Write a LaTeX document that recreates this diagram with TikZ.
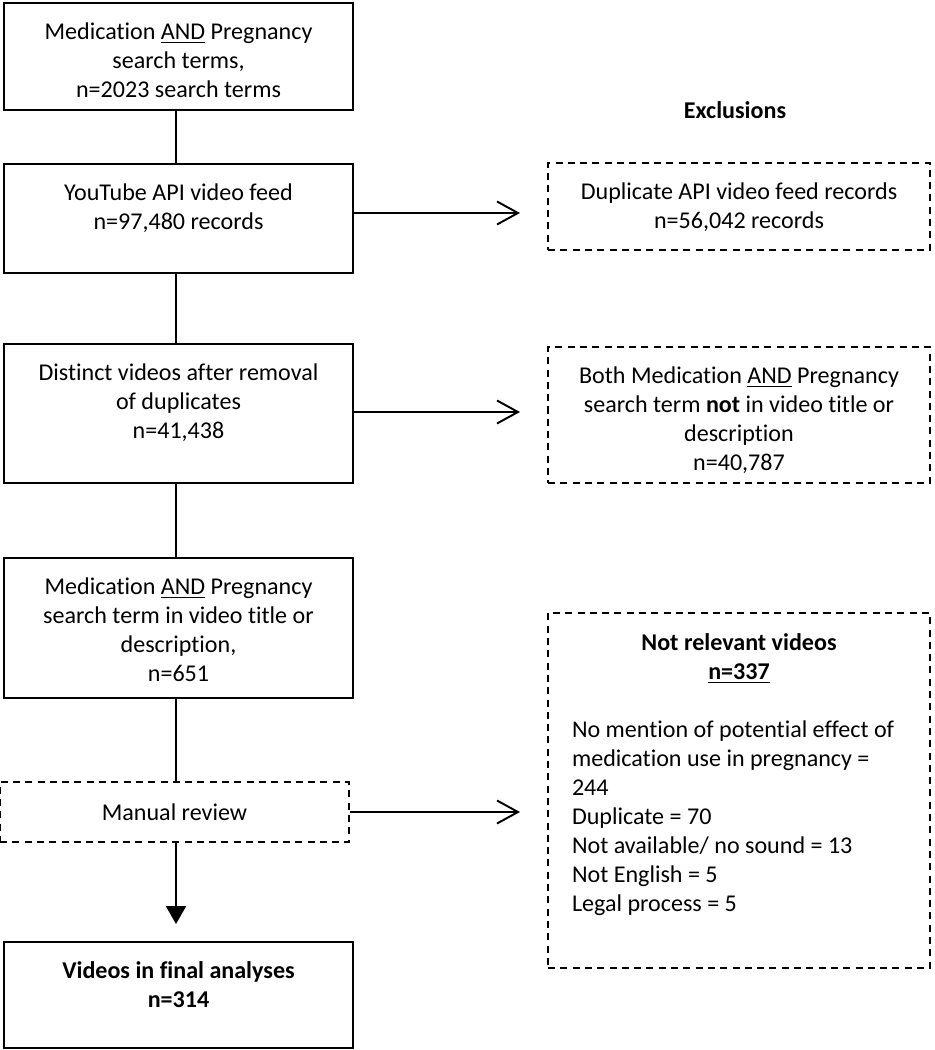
\documentclass[tikz,border=0pt]{standalone}
\usepackage{fontspec}
\setmainfont{Carlito}[Ligatures=NoCommon]
\usetikzlibrary{arrows.meta}

% box text set from the top, like a text box
\newcommand{\boxtext}[3]{\parbox[c][#2][t]{#1}{\centering\vspace{0.4cm}#3}}

\begin{document}
\begin{tikzpicture}[x=0.02cm, y=-0.02cm,
    every node/.style={font=\fontsize{13.7}{16.5}\selectfont, inner sep=0pt},
    stage/.style={draw, line width=1.1pt},
    excl/.style={draw, line width=1.1pt, dash pattern=on 4pt off 3pt},
    flow/.style={line width=1.1pt},
    exarrow/.style={line width=1.1pt, -{Straight Barb[length=0.42cm, width=0.46cm, line width=1.1pt]}},
    downarrow/.style={line width=1.1pt, -{Triangle[length=0.36cm, width=0.4cm]}, shorten >=0.34cm},
    ]
    \useasboundingbox (0,0) rectangle (934,1050);

    % left column
    \node[stage] (search) at (178.5,56.5) {\boxtext{6.98cm}{2.14cm}{Medication \underline{AND} Pregnancy\\ search terms,\\ n=2023 search terms}};
    \node[stage] (feed) at (178.5,218.5) {\boxtext{6.98cm}{2.18cm}{YouTube API video feed\\ n=97,480 records}};
    \node[stage] (distinct) at (178.5,413.5) {\boxtext{6.98cm}{2.78cm}{Distinct videos after removal\\ of duplicates\\ n=41,438}};
    \node[stage] (matched) at (178.5,628) {\boxtext{6.98cm}{2.8cm}{Medication \underline{AND} Pregnancy\\ search term in video title or\\ description,\\ n=651}};
    \node[excl, minimum width=6.98cm, minimum height=1.2cm] (review) at (174.5,812) {Manual review};
    \node[stage] (final) at (178.5,995) {\boxtext{6.98cm}{2.12cm}{\textbf{Videos in final analyses}\\ \textbf{n=314}}};

    % right column
    \node[font=\fontsize{13.7}{16.5}\selectfont\bfseries] (exhead) at (735,110) {Exclusions};
    \node[excl] (dupl) at (739,206.5) {\boxtext{7.64cm}{1.74cm}{Duplicate API video feed records\\ n=56,042 records}};
    \node[excl] (noterm) at (739,415) {\boxtext{7.64cm}{2.72cm}{Both Medication \underline{AND} Pregnancy\\ search term \textbf{not} in video title or\\ description\\ n=40,787}};
    \node[excl] (irrel) at (739,790.5) {\parbox[c][7.1cm][t]{7.64cm}{\vspace{0.42cm}%
        {\centering\textbf{Not relevant videos}\\ \textbf{\underline{n=337}}\par}\vspace{16.5pt}%
        {\raggedright\leftskip=0.48cm
        No mention of potential effect of\\ medication use in pregnancy =\\ 244\\ Duplicate = 70\\ Not available/ no sound = 13\\ Not English = 5\\ Legal process = 5\par}}};

    \coordinate (spine) at (176,0);
    \coordinate (duplend) at (520,213);
    \coordinate (ntend) at (520,412);
    \coordinate (irrend) at (520,812);

    % connectors
    \draw[flow] (search.south -| spine) -- (feed.north -| spine);
    \draw[flow] (feed.south -| spine) -- (distinct.north -| spine);
    \draw[flow] (distinct.south -| spine) -- (matched.north -| spine);
    \draw[flow] (matched.south -| spine) -- (review.north -| spine);
    \draw[downarrow] (review.south -| spine) -- (final.north -| spine);
    \draw[exarrow] (feed.east |- duplend) -- (duplend);
    \draw[exarrow] (distinct.east |- ntend) -- (ntend);
    \draw[exarrow] (review.east |- irrend) -- (irrend);
\end{tikzpicture}
\end{document}
